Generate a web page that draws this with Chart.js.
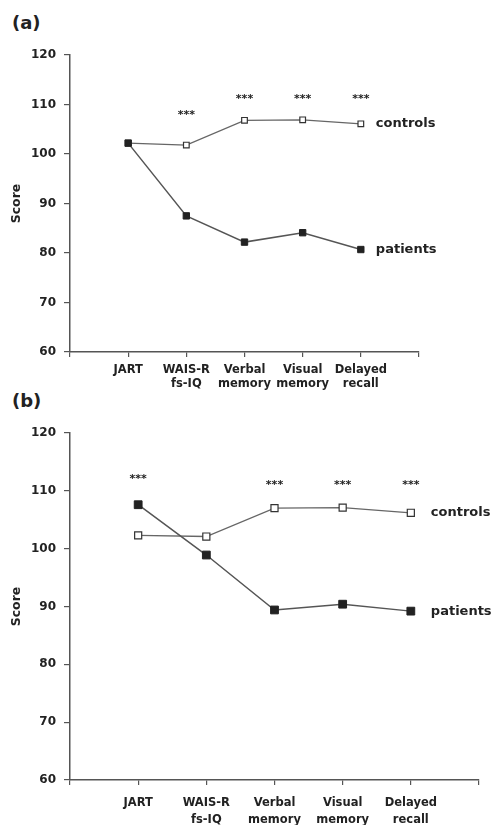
<!DOCTYPE html>
<html>
<head>
<meta charset="utf-8">
<script src="https://cdn.jsdelivr.net/npm/chart.js@4"></script>
<style>
  html, body { margin: 0; padding: 0; background: #fff; }
  body { width: 492px; height: 825px; position: relative; overflow: hidden; }
  .panel { position: absolute; left: 0; width: 492px; }
  .tag { position: absolute; left: 12px; font: bold 18px "DejaVu Sans", sans-serif; color: #222; line-height: 22px; }
</style>
</head>
<body>
<div class="tag" style="top:12px">(a)</div>
<div class="tag" style="top:390px">(b)</div>
<div class="panel" style="top:0;height:395px"><canvas id="ca" width="492" height="395"></canvas></div>
<div class="panel" style="top:395px;height:430px"><canvas id="cb" width="492" height="430"></canvas></div>
<script>
// ---- data ----
const categories = [['JART'], ['WAIS-R', 'fs-IQ'], ['Verbal', 'memory'], ['Visual', 'memory'], ['Delayed', 'recall']];
const seriesNames = ['controls', 'patients'];
const yMin = 60, yMax = 120, yStep = 10;

const aControls = [102.2, 101.8, 106.8, 106.9, 106.1];
const aPatients = [102.2, 87.5, 82.2, 84.1, 80.7];
const aStars    = [null, 108.3, 111.5, 111.5, 111.5];

const bControls = [102.3, 102.1, 107.0, 107.1, 106.2];
const bPatients = [107.6, 98.9, 89.4, 90.4, 89.2];
const bStars    = [112.4, null, 111.4, 111.4, 111.4];

// ---- helpers ----
const FONT = '"DejaVu Sans", sans-serif';
const INK = '#222';
const AXIS = '#555';

const toPoints = arr => arr.map((v, i) => ({ x: i + 1, y: v }));

const annotate = {
  id: 'annotate',
  afterDatasetsDraw(chart, args, opts) {
    const { ctx } = chart;
    const xs = chart.scales.x, ys = chart.scales.y;
    ctx.save();
    ctx.fillStyle = INK;
    ctx.font = 'bold 11px ' + FONT;
    ctx.textAlign = 'center';
    ctx.textBaseline = 'middle';
    opts.stars.forEach((v, i) => {
      if (v == null) return;
      ctx.fillText('***', xs.getPixelForValue(i + 1), ys.getPixelForValue(v) + 2);
    });
    ctx.font = 'bold 13px ' + FONT;
    ctx.textAlign = 'left';
    chart.data.datasets.forEach((ds, d) => {
      const meta = chart.getDatasetMeta(d);
      const last = meta.data[meta.data.length - 1];
      ctx.fillText(ds.label, last.x + opts.labelGap, last.y);
    });
    ctx.restore();
  }
};

function makeChart(id, controls, patients, stars, cfg) {
  return new Chart(document.getElementById(id), {
    type: 'line',
    data: {
      datasets: [
        {
          label: seriesNames[0], data: toPoints(controls),
          borderColor: '#666', borderWidth: 1.3,
          pointStyle: 'rect', pointRadius: cfg.rc, pointBorderWidth: 1.2,
          pointBackgroundColor: '#fff', pointBorderColor: '#333', order: 2
        },
        {
          label: seriesNames[1], data: toPoints(patients),
          borderColor: '#555', borderWidth: 1.5,
          pointStyle: 'rect', pointRadius: cfg.rp, pointBorderWidth: 1,
          pointBackgroundColor: '#222', pointBorderColor: '#222', order: 1
        }
      ]
    },
    options: {
      responsive: false, animation: false, events: [],
      layout: { padding: { left: 0, top: cfg.top, right: cfg.right, bottom: 0 } },
      plugins: { legend: { display: false }, tooltip: { enabled: false },
                 annotate: { stars: stars, labelGap: cfg.gap } },
      scales: {
        x: {
          type: 'linear', min: 0, max: categories.length + 1,
          afterFit: s => { s.height = cfg.xh; },
          border: { display: true, color: AXIS, width: 1.5 },
          grid: { display: true, drawOnChartArea: false, drawTicks: true, tickLength: 5, color: AXIS, lineWidth: 1.2 },
          ticks: {
            stepSize: 1, autoSkip: false, maxRotation: 0, padding: cfg.xpad,
            color: INK, font: { family: FONT, weight: 'bold', size: 11.5, lineHeight: cfg.lh },
            callback: v => categories[v - 1] || ''
          }
        },
        y: {
          min: yMin, max: yMax,
          afterFit: s => { s.width = 70; },
          border: { display: true, color: AXIS, width: 1.5 },
          grid: { display: true, drawOnChartArea: false, drawTicks: true, tickLength: 6, color: AXIS, lineWidth: 1.2 },
          ticks: { stepSize: yStep, padding: 8, color: INK, font: { family: FONT, weight: 'bold', size: 12 } },
          title: { display: true, text: 'Score', color: INK, padding: { top: 9.5, bottom: 0 },
                   font: { family: FONT, weight: 'bold', size: 12.5, lineHeight: 1.2 } }
        }
      }
    },
    plugins: [annotate]
  });
}

makeChart('ca', aControls, aPatients, aStars, { top: 55, right: 73, xh: 43, xpad: 6, lh: '14px', rc: 4, rp: 4.5, gap: 15 });
makeChart('cb', bControls, bPatients, bStars, { top: 38, right: 13, xh: 45, xpad: 10, lh: '17px', rc: 5, rp: 5.5, gap: 20 });
</script>
</body>
</html>
